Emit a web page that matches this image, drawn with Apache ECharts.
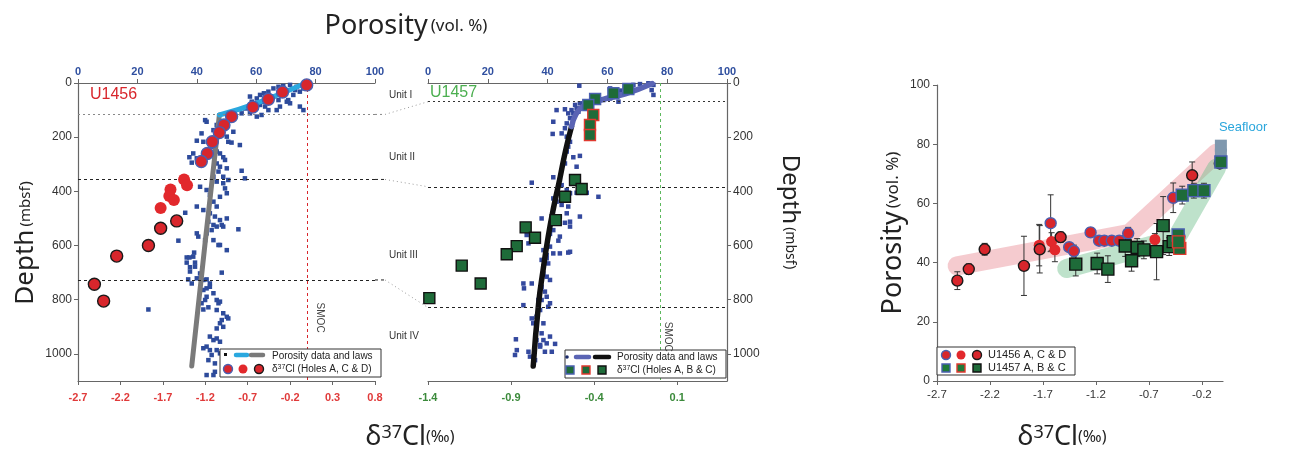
<!DOCTYPE html>
<html>
<head>
<meta charset="utf-8">
<script src="https://cdn.jsdelivr.net/npm/echarts@6/dist/echarts.min.js"></script>
<style>
  html, body { margin: 0; padding: 0; background: #fff; }
  #main { width: 1289px; height: 451px; }
</style>
</head>
<body>
<div id="main"></div>
<script>
// ---- U1456 (left panel) : porosity [vol.%, depth mbsf]
var poro1456 = [
  [61.3,44],[62.6,38],[65.8,20],[67.5,14],[69.1,11],[71.4,7],[73.1,26],[74.7,32],[65.8,50],[67.5,63],
  [70.3,69],[71.4,75],[72.5,44],[62.4,69],[60.2,57],[57.9,50],[58.5,69],[61.3,81],[63.0,87],[64.1,100],
  [66.9,100],[57.9,112],[60.2,124],[61.8,118],[68.0,87],[74.7,87],[75.9,100],[70.8,63],[68.0,38],[64.1,32],
  [75.9,20],[73.6,14],[55.1,112],[56.2,94],
  [42.8,137],[43.3,143],[46.7,155],[45.6,174],[46.7,192],[49.5,167],[52.3,180],[50.1,198],[50.6,217],[51.7,220],
  [54.5,229],[41.6,186],[40.0,213],[42.2,217],[43.9,247],[45.6,235],[46.7,253],[47.8,260],[48.9,274],[49.5,284],
  [38.8,260],[37.5,274],[38.3,294],[40.0,278],[46.7,297],[47.8,309],[50.1,315],[47.3,327],[48.9,346],[50.6,358],
  [55.1,324],[56.2,352],[45.6,346],[46.7,364],[41.1,383],[43.3,395],[44.4,413],[48.9,370],[49.5,389],[50.1,407],
  [47.8,420],[45.6,438],[46.7,456],[40.0,456],[42.2,469],[44.4,481],[46.1,493],[47.8,506],[48.4,524],[48.9,530],
  [54.0,540],[46.7,530],[45.0,543],[45.6,524],[43.3,555],[40.0,555],[40.5,567],[42.8,580],[45.6,580],[47.8,598],
  [33.8,582],[36.1,479],[43.9,512],[50.1,500],
  [36.6,644],[37.5,644],[38.8,641],[36.6,663],[39.4,663],[37.7,680],[39.4,678],[37.7,696],[41.1,703],[40.0,721],
  [37.1,725],[38.3,740],[42.2,727],[43.3,725],[44.4,740],[43.3,758],[42.2,764],[44.4,752],[45.6,776],[43.3,789],
  [42.8,801],[46.7,801],[47.3,813],[47.8,807],[41.6,813],[42.2,836],[43.9,828],[46.7,838],[48.9,850],[50.1,863],
  [50.6,869],[48.4,875],[47.8,887],[48.9,900],[46.7,906],[44.4,936],[45.6,949],[46.7,943],[47.8,955],[43.3,973],
  [42.2,979],[44.4,986],[46.7,986],[45.0,1004],[47.8,998],[43.9,1023],[46.1,1035],[48.9,1041],[46.1,1066],[43.3,1078],
  [45.6,1078],[23.7,836],[48.4,700],[47.3,598],[50.1,617],[39.1,626]
];
var law1456Shallow = [[47.6,118],[60,75],[76,4]];
var law1456Deep = [[47.6,118],[42.9,580],[38.3,1045]];
// d37Cl [permil, depth]
var cl1456A = [[-0.005,7],[-0.29,33],[-0.457,60],[-0.64,89],[-0.89,124],[-0.98,155],[-1.035,183],[-1.117,217],[-1.176,260],[-1.247,290]];
var cl1456C = [[-1.45,356],[-1.415,377],[-1.61,393],[-1.624,417],[-1.57,432],[-1.726,461]];
var cl1456D = [[-1.537,509],[-1.726,536],[-1.87,600],[-2.244,639],[-2.507,743],[-2.398,805]];
var units1456 = [116, 356, 727];

// ---- U1457 (middle panel)
var poro1457 = [
  [50.6,10],[60.9,20],[62.0,26],[63.1,38],[64.2,28],[65.9,20],[68.7,7],[70.9,4],[73.7,1],[74.8,26],
  [75.4,44],[75.4,7],[60.9,57],[63.7,69],[58.6,63],[56.4,69],[53.1,69],[50.8,75],[49.2,81],[49.7,94],
  [48.0,100],[46.9,112],[48.6,112],[50.8,94],[52.0,87],[50.3,106],[45.8,97],[43.0,100],[47.5,130],[46.4,149],
  [45.8,167],[44.7,186],[41.9,143],[41.7,188],[46.4,198],[47.5,217],[46.9,235],[46.4,253],[48.6,274],[50.8,269],
  [49.7,309],[45.8,297],[41.9,348],[44.1,358],[44.7,377],[34.7,368],[46.4,395],[47.5,407],[49.7,405],[53.1,405],
  [57.0,420],[41.9,426],[43.0,438],[44.7,450],[46.9,456],[46.4,481],[44.1,493],[50.8,493],[47.5,512],[45.8,516],
  [47.5,530],[38.0,500],[41.9,543],[40.8,557],[44.1,567],[33.0,561],[33.6,592],[43.6,582],[40.8,604],[39.7,635],
  [38.6,617],[39.7,647],[40.2,666],[38.6,678],[41.9,629],[44.1,629],[46.9,626],[47.5,623],[38.0,653],[38.6,703],
  [39.7,715],[40.8,727],[38.0,752],[39.1,770],[39.7,789],[38.0,801],[40.2,826],[40.8,813],[31.9,740],[32.1,758],
  [34.7,740],[36.9,801],[37.5,838],[36.3,863],[35.2,887],[36.3,909],[38.6,887],[38.0,924],[36.3,949],[38.6,949],
  [39.7,961],[40.8,936],[37.5,973],[39.1,992],[31.9,820],[34.7,869],[29.4,946],[29.7,986],[29.1,1004],[33.6,992],
  [34.1,1010],[35.8,1023],[37.5,967],[41.4,992],[42.5,963]
];
var law1457Shallow = [[48,161],[49.5,115],[52,85],[58,62],[66,40],[75,2]];
var law1457Deep = [[48,161],[46,250],[44,358],[42,460],[40.2,567],[38.5,690],[37,813],[35.2,1045]];
var cl1457A = [[-0.194,22],[-0.284,38],[-0.394,59],[-0.435,81]];
var cl1457B = [[-0.405,118],[-0.425,155],[-0.425,192]];
var cl1457C = [[-0.515,358],[-0.475,391],[-0.575,420],[-0.631,506],[-0.812,533],[-0.756,571],[-0.866,602],[-0.926,632],[-1.197,674],[-1.083,740],[-1.392,794]];
var units1457 = [69, 383, 829];
var unitNames = ['Unit I', 'Unit II', 'Unit III', 'Unit IV'];
var unitLabelDepth = [45, 275, 635, 935];

// ---- porosity vs d37Cl (right panel) [permil, vol.%, error]
var x1456A = [[-1.627,53.3,9.6],[-1.452,45.2,0],[-1.408,43.9,2],[-1.25,50.2,1.5],[-1.17,47.4,1],[-1.12,47.4,1],[-1.05,47.4,1],[-0.98,47.4,1],[-0.895,49.9,2],[-0.47,61.9,5],[-0.41,48.8,0]];
var x1456C = [[-1.735,45.9,7],[-1.618,47.1,3],[-1.587,44.3,4],[-0.643,47.8,2]];
var x1456D = [[-2.508,33.9,3],[-2.40,37.8,1.8],[-2.25,44.5,2],[-1.879,38.9,10],[-1.73,44.5,8],[-1.533,48.6,1.8],[-0.291,69.5,4.5],[-0.03,73.5,1.5]];
var x1457A = [[-0.385,62.8,3],[-0.275,64.3,2.5],[-0.18,64.3,2.5],[-0.423,49.3,0],[-0.02,74,0]];
var x1457B = [[-0.408,44.8,0],[-0.42,47,0]];
var x1457C = [[-1.39,39.5,4],[-1.188,39.7,3.5],[-1.087,37.8,4.5],[-0.923,45.6,3.5],[-0.863,40.6,3.5],[-0.81,45.1,3],[-0.747,44.3,3],[-0.627,43.7,9.5],[-0.565,52.5,9.8],[-0.508,45.4,3],[-0.47,47.1,2]];
var seafloor = [[-0.02,76.5],[-0.02,79.5]];
var band1456 = [[-2.51,38.9],[-0.88,49.9],[-0.06,77]];
var band1457 = [[-1.476,38.0],[-0.44,48.2],[-0.06,72]];

var RED = '#d8262c', BLUE_EDGE = '#4a5fb0', GREEN = '#1e6b39';
var FONT = 'Liberation Sans';

var chart = echarts.init(document.getElementById('main'));

function topAxis(grid) {
  return {
    type: 'value', gridIndex: grid, position: 'top', min: 0, max: 100, interval: 20,
    axisLine: { onZero: false, lineStyle: { color: '#666', width: 1.2 } },
    axisTick: { length: 4, lineStyle: { color: '#666' } },
    axisLabel: { color: '#2f4f9f', fontWeight: 'bold', fontSize: 11, fontFamily: FONT, margin: 6 },
    splitLine: { show: false }
  };
}
function clAxis(grid, min, max, color) {
  return {
    type: 'value', gridIndex: grid, position: 'bottom', min: min, max: max, interval: 0.5,
    axisLine: { onZero: false, lineStyle: { color: '#666', width: 1.2 } },
    axisTick: { length: 4, lineStyle: { color: '#666' } },
    axisLabel: { color: color, fontWeight: 'bold', fontSize: 11, fontFamily: FONT, margin: 11,
      showMaxLabel: grid === 0, formatter: function (v) { return v.toFixed(1); } },
    splitLine: { show: false }
  };
}
function depthAxis(grid, pos) {
  return {
    type: 'value', gridIndex: grid, position: pos, inverse: true, min: 0, max: 1100, interval: 200,
    axisLine: { show: true, onZero: false, lineStyle: { color: '#666', width: 1.2 } },
    axisTick: { show: true, length: 4, lineStyle: { color: '#666' } },
    axisLabel: { color: '#333', fontSize: 12, fontFamily: FONT, margin: 6, showMaxLabel: false,
      formatter: function (v) { return String(v); } },
    splitLine: { show: false }
  };
}
function boundLines(list, firstColor) {
  return {
    silent: true, symbol: ['none', 'none'], label: { show: false },
    data: list.map(function (d, i) {
      return { yAxis: d, lineStyle: { color: i === 0 ? firstColor : '#222', type: i === 0 ? [2, 3] : [3, 3], width: 1 } };
    })
  };
}
function smoc(color) {
  return {
    silent: true, symbol: ['none', 'none'], label: { show: false },
    data: [{ xAxis: 0, lineStyle: { color: color, type: [3, 3], width: 1 } }]
  };
}
function dots(name, data, xi, yi, symbol, size, fill, edge) {
  return {
    name: name, type: 'scatter', xAxisIndex: xi, yAxisIndex: yi, data: data,
    symbol: symbol, symbolSize: size, z: 5,
    itemStyle: { color: fill, borderColor: edge || fill, borderWidth: edge ? 1.4 : 0, opacity: 1 }
  };
}
function law(data, xi, yi, color, width, smooth) {
  return {
    type: 'line', xAxisIndex: xi, yAxisIndex: yi, data: data, symbol: 'none', smooth: smooth, z: 4,
    lineStyle: { color: color, width: width, cap: 'round', join: 'round' }
  };
}
function band(data, color) {
  return {
    type: 'line', xAxisIndex: 4, yAxisIndex: 2, data: data, symbol: 'none', z: 1, silent: true,
    lineStyle: { color: color, width: 19, cap: 'round', join: 'round' }
  };
}

var errData = [].concat(x1456A, x1456C, x1456D, x1457A, x1457B, x1457C).filter(function (d) { return d[2] > 0; });

var redA = dots('1456A', cl1456A, 1, 0, 'circle', 12, RED, BLUE_EDGE);
redA.markLine = smoc('#d8262c');
var blue1456 = dots('poro1456', poro1456, 0, 0, 'rect', 4.5, '#2d4b9b');
blue1456.z = 2;
blue1456.markLine = boundLines(units1456, '#888');
var blue1457 = dots('poro1457', poro1457, 2, 1, 'rect', 4.5, '#34499e');
blue1457.z = 2;
blue1457.markLine = boundLines(units1457, '#333');
var grA = dots('1457A', cl1457A, 3, 1, 'rect', 11, GREEN, BLUE_EDGE);
grA.markLine = smoc('#5db85d');

chart.setOption({
  animation: false,
  grid: [
    { left: 78, top: 83, width: 297, height: 298 },
    { left: 428, top: 83, width: 299, height: 298 },
    { left: 937, top: 85, width: 286, height: 296 }
  ],
  xAxis: [
    topAxis(0),
    clAxis(0, -2.7, 0.8, '#e03a3a'),
    topAxis(1),
    clAxis(1, -1.4, 0.4, '#3b8a3b'),
    {
      type: 'value', gridIndex: 2, min: -2.7, max: 0, interval: 0.5,
      axisLine: { onZero: false, lineStyle: { color: '#666', width: 1.2 } },
      axisTick: { length: 4, lineStyle: { color: '#666' } },
      axisLabel: { color: '#333', fontSize: 11.5, fontFamily: FONT, margin: 8, showMaxLabel: false,
        formatter: function (v) { return v.toFixed(1); } },
      splitLine: { show: false }
    }
  ],
  yAxis: [
    depthAxis(0, 'left'),
    depthAxis(1, 'right'),
    {
      type: 'value', gridIndex: 2, position: 'left', min: 0, max: 100, interval: 20,
      axisLine: { show: true, onZero: false, lineStyle: { color: '#666', width: 1.2 } },
      axisTick: { show: true, length: 4, lineStyle: { color: '#666' } },
      axisLabel: { color: '#333', fontSize: 12, fontFamily: FONT, margin: 7 },
      splitLine: { show: false }
    }
  ],
  series: [
    band(band1456, 'rgba(232,130,140,0.42)'),
    band(band1457, 'rgba(110,190,140,0.45)'),
    blue1456,
    law(law1456Deep, 0, 0, '#7a7a7a', 5, false),
    law(law1456Shallow, 0, 0, '#2aa8df', 5, true),
    redA,
    dots('1456C', cl1456C, 1, 0, 'circle', 12, '#e2282c'),
    dots('1456D', cl1456D, 1, 0, 'circle', 12, RED, '#1a1a1a'),
    blue1457,
    law(law1457Deep, 2, 1, '#111', 5.5, true),
    law(law1457Shallow, 2, 1, '#5a64b4', 5.5, true),
    grA,
    dots('1457B', cl1457B, 3, 1, 'rect', 11, GREEN, '#e0392f'),
    dots('1457C', cl1457C, 3, 1, 'rect', 11, GREEN, '#111'),
    {
      type: 'custom', xAxisIndex: 4, yAxisIndex: 2, data: errData, z: 3, silent: true,
      renderItem: function (params, api) {
        var x = api.value(0), y = api.value(1), e = api.value(2);
        var a = api.coord([x, y - e]), b = api.coord([x, y + e]);
        var st = { stroke: '#333', lineWidth: 1 };
        return { type: 'group', children: [
          { type: 'line', shape: { x1: a[0], y1: a[1], x2: b[0], y2: b[1] }, style: st },
          { type: 'line', shape: { x1: a[0] - 3, y1: a[1], x2: a[0] + 3, y2: a[1] }, style: st },
          { type: 'line', shape: { x1: b[0] - 3, y1: b[1], x2: b[0] + 3, y2: b[1] }, style: st }
        ] };
      }
    },
    dots('sea', seafloor, 4, 2, 'rect', 12, '#7f98ae'),
    dots('x1456C', x1456C, 4, 2, 'circle', 11, '#e2282c'),
    dots('x1456A', x1456A, 4, 2, 'circle', 11, RED, BLUE_EDGE),
    dots('x1456D', x1456D, 4, 2, 'circle', 11, RED, '#1a1a1a'),
    dots('x1457C', x1457C, 4, 2, 'rect', 12, GREEN, '#111'),
    dots('x1457A', x1457A, 4, 2, 'rect', 12, GREEN, BLUE_EDGE),
    dots('x1457B', x1457B, 4, 2, 'rect', 12, GREEN, '#e0392f')
  ]
});

// text and legends, placed from the axes
var g = [];
function txt(x, y, text, opts) {
  var s = { text: text, x: 0, y: 0, align: 'center', verticalAlign: 'middle', fill: '#222', fontFamily: 'Noto Sans' };
  for (var k in opts) if (k !== 'rotation') s[k] = opts[k];
  g.push({ type: 'text', x: x, y: y, rotation: opts.rotation || 0, style: s, z: 20 });
}
var titleRich = { a: { fontSize: 27, fontFamily: 'Noto Sans', fill: '#222' }, b: { fontSize: 17, fontFamily: 'Noto Sans', fill: '#222' } };
var clRich = {
  a: { fontSize: 27, fontFamily: 'Noto Sans', fill: '#222' },
  s: { fontSize: 18, fontFamily: 'Noto Sans', fill: '#222', verticalAlign: 'top' },
  b: { fontSize: 16, fontFamily: 'Noto Sans', fill: '#222' }
};
txt(406, 26, '{a|Porosity} {b|(vol. %)}', { rich: titleRich });
txt(410, 437, '{a|δ}{s|37}{a|Cl}{b|(‰)}', { rich: clRich });
txt(1062, 437, '{a|δ}{s|37}{a|Cl}{b|(‰)}', { rich: clRich });
txt(893, 233, '{a|Porosity} {b|(vol. %)}', { rich: titleRich, rotation: Math.PI / 2 });
txt(26, 243, '{a|Depth} {b|(mbsf)}', { rich: { a: { fontSize: 26, fontFamily: 'Noto Sans', fill: '#222' }, b: { fontSize: 15, fontFamily: 'Noto Sans', fill: '#222' } }, rotation: Math.PI / 2 });
txt(790, 212, '{a|Depth} {b|(mbsf)}', { rich: { a: { fontSize: 24, fontFamily: 'Noto Sans', fill: '#222' }, b: { fontSize: 14, fontFamily: 'Noto Sans', fill: '#222' } }, rotation: -Math.PI / 2 });
txt(90, 95, 'U1456', { align: 'left', fontSize: 16, fill: '#d8262c', fontFamily: FONT });
txt(430, 93, 'U1457', { align: 'left', fontSize: 16, fill: '#4caf50', fontFamily: FONT });

var smocX1 = chart.convertToPixel({ xAxisIndex: 1 }, 0);
var smocX2 = chart.convertToPixel({ xAxisIndex: 3 }, 0);
txt(smocX1 + 13, chart.convertToPixel({ yAxisIndex: 0 }, 866), 'SMOC', { fontSize: 10, fill: '#444', fontFamily: FONT, rotation: -Math.PI / 2 });
txt(smocX2 + 7, chart.convertToPixel({ yAxisIndex: 1 }, 937), 'SMOC', { fontSize: 10, fill: '#444', fontFamily: FONT, rotation: -Math.PI / 2 });

unitNames.forEach(function (n, i) {
  txt(389, chart.convertToPixel({ yAxisIndex: 1 }, unitLabelDepth[i]), n, { align: 'left', fontSize: 10, fill: '#333', fontFamily: FONT });
});

// connectors between the unit boundaries of both sites
var xr = chart.convertToPixel({ xAxisIndex: 0 }, 100);
var xl = chart.convertToPixel({ xAxisIndex: 2 }, 0);
units1456.forEach(function (d, i) {
  var y0 = chart.convertToPixel({ yAxisIndex: 0 }, d);
  var y1 = chart.convertToPixel({ yAxisIndex: 1 }, units1457[i]);
  g.push({ type: 'line', shape: { x1: xr, y1: y0, x2: xr + 10, y2: y0 }, style: { stroke: i === 0 ? '#888' : '#222', lineWidth: 1, lineDash: i === 0 ? [2, 3] : [3, 3] } });
  g.push({ type: 'line', shape: { x1: xr + 10, y1: y0, x2: xl, y2: y1 }, style: { stroke: '#999', lineWidth: 1, lineDash: [1, 3] } });
});

var sea = chart.convertToPixel({ xAxisIndex: 4, yAxisIndex: 2 }, seafloor[1]);
txt(sea[0] - 2, sea[1] - 18, 'Seafloor', { align: 'left', fontSize: 13, fill: '#2aa6dc', fontFamily: FONT });

// legends
function box(x, y, w, h) {
  g.push({ type: 'rect', shape: { x: x, y: y, width: w, height: h }, style: { fill: '#fff', stroke: '#333', lineWidth: 1 }, z: 18 });
}
function dash(x1, x2, y, color) {
  g.push({ type: 'line', shape: { x1: x1, y1: y, x2: x2, y2: y }, style: { stroke: color, lineWidth: 4.5, lineCap: 'round' }, z: 19 });
}
function mark(shape, x, y, fill, edge) {
  var st = { fill: fill, stroke: edge || fill, lineWidth: edge ? 1.4 : 0 };
  if (shape === 'circle') g.push({ type: 'circle', shape: { cx: x, cy: y, r: 4.5 }, style: st, z: 19 });
  else g.push({ type: 'rect', shape: { x: x - 4, y: y - 4, width: 8, height: 8 }, style: st, z: 19 });
}
var legRich = { n: { fontSize: 10, fontFamily: FONT, fill: '#222' }, s: { fontSize: 7, fontFamily: FONT, fill: '#222', verticalAlign: 'top' } };

box(220, 349, 161, 28);
g.push({ type: 'rect', shape: { x: 224, y: 353, width: 3, height: 3 }, style: { fill: '#111' }, z: 19 });
dash(236, 247, 355, '#2aa8df');
dash(251, 263, 355, '#7a7a7a');
txt(272, 356, 'Porosity data and laws', { align: 'left', fontSize: 10, fill: '#222', fontFamily: FONT, z: 19 });
mark('circle', 228, 369, RED, BLUE_EDGE);
mark('circle', 243, 369, '#e2282c');
mark('circle', 259, 369, RED, '#1a1a1a');
txt(272, 369, '{n|δ}{s|37}{n|Cl (Holes A, C & D)}', { align: 'left', rich: legRich });

box(565, 350, 161, 28);
g.push({ type: 'circle', shape: { cx: 567, cy: 357, r: 1.8 }, style: { fill: '#1a2a6a' }, z: 19 });
dash(576, 589, 357, '#5a64b4');
dash(595, 609, 357, '#111');
txt(617, 357, 'Porosity data and laws', { align: 'left', fontSize: 10, fill: '#222', fontFamily: FONT });
mark('rect', 570, 370, GREEN, BLUE_EDGE);
mark('rect', 586, 370, GREEN, '#e0392f');
mark('rect', 602, 370, GREEN, '#111');
txt(617, 370, '{n|δ}{s|37}{n|Cl (Holes A, B & C)}', { align: 'left', rich: legRich });

box(937, 347, 138, 28);
mark('circle', 946, 355, RED, BLUE_EDGE);
mark('circle', 961, 355, '#e2282c');
mark('circle', 977, 355, RED, '#1a1a1a');
txt(988, 355, 'U1456 A, C & D', { align: 'left', fontSize: 11, fill: '#222', fontFamily: FONT });
mark('rect', 946, 368, '#1f7a3a', BLUE_EDGE);
mark('rect', 961, 368, '#1f7a3a', '#e0392f');
mark('rect', 977, 368, GREEN, '#111');
txt(988, 368, 'U1457 A, B & C', { align: 'left', fontSize: 11, fill: '#222', fontFamily: FONT });

chart.setOption({ graphic: { elements: g } });
</script>
</body>
</html>
